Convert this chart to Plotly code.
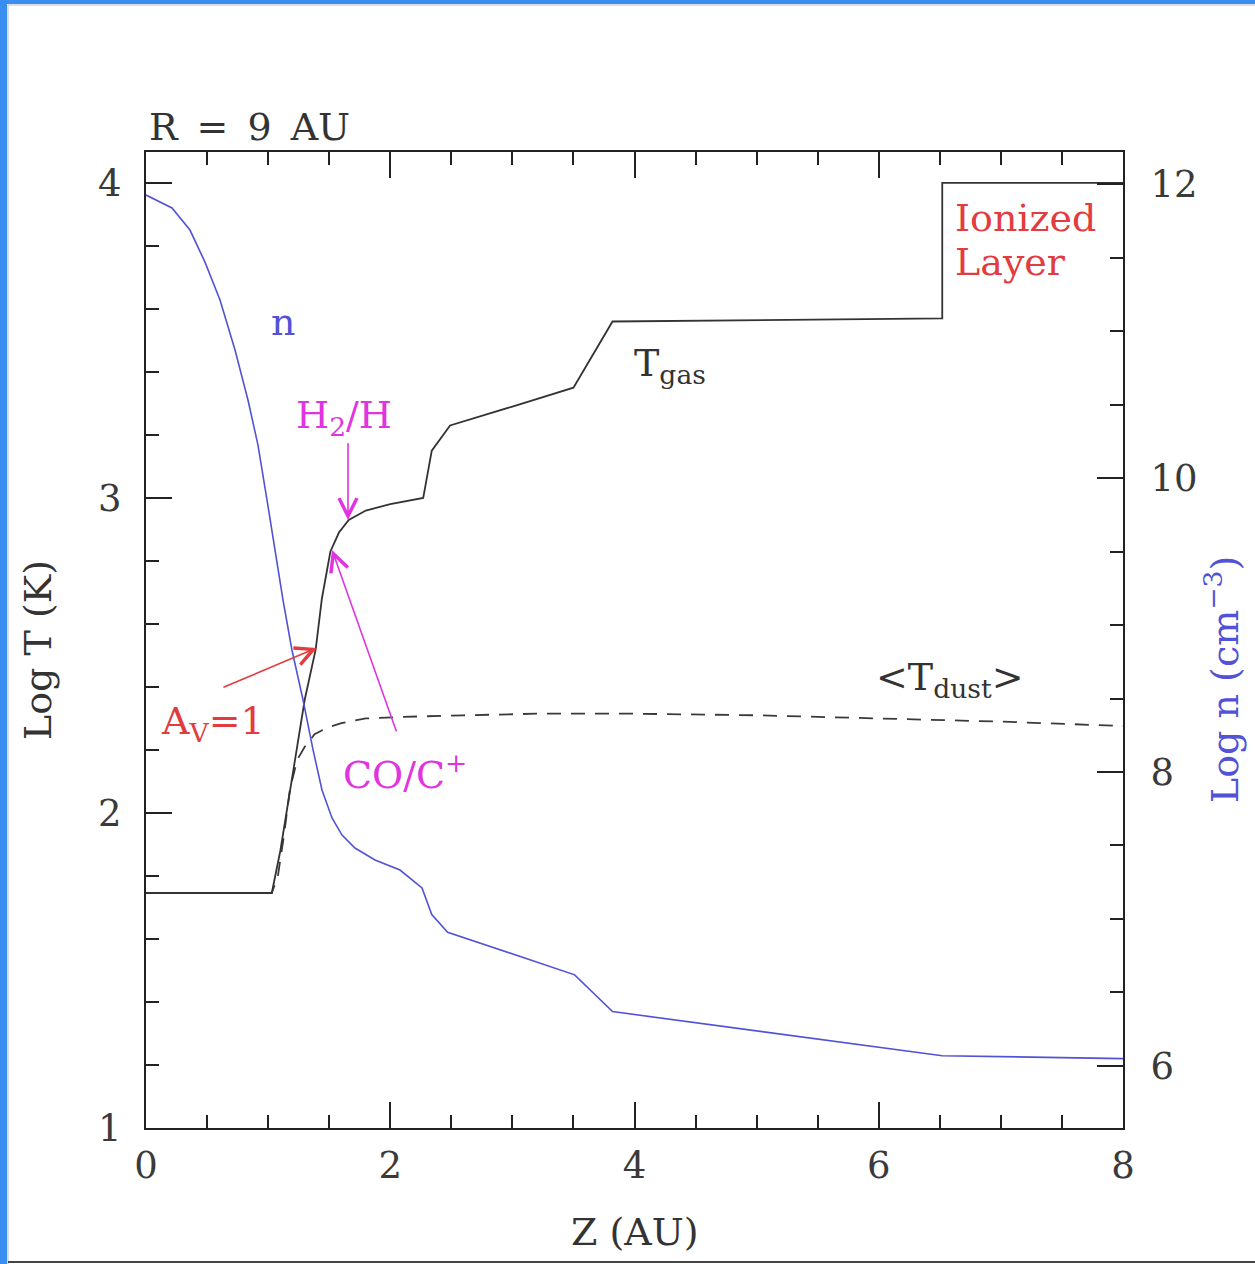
import plotly.graph_objects as go

# ---------------- data ----------------
z_gas = [0.0, 1.03, 1.10, 1.20, 1.30, 1.39, 1.44, 1.51, 1.58, 1.66, 1.80, 2.00, 2.27, 2.34, 2.49, 3.00, 3.50, 3.82, 6.52, 6.52, 8.0]
logT_gas = [1.746, 1.746, 1.88, 2.12, 2.36, 2.52, 2.68, 2.83, 2.89, 2.93, 2.96, 2.98, 3.00, 3.15, 3.23, 3.29, 3.35, 3.56, 3.57, 4.0, 4.0]

z_dust = [0.0, 1.03, 1.08, 1.13, 1.18, 1.24, 1.30, 1.38, 1.48, 1.60, 1.80, 2.10, 2.60, 3.20, 4.00, 5.00, 6.00, 7.00, 8.00]
logT_dust = [1.746, 1.746, 1.80, 1.93, 2.08, 2.17, 2.21, 2.25, 2.27, 2.285, 2.30, 2.305, 2.31, 2.315, 2.315, 2.31, 2.30, 2.29, 2.276]

z_n = [0.0, 0.213, 0.36, 0.483, 0.606, 0.729, 0.835, 0.917, 0.991, 1.056, 1.122, 1.195, 1.286, 1.368,
       1.441, 1.523, 1.605, 1.711, 1.875, 2.08, 2.26, 2.34, 2.47, 3.51, 3.82, 6.52, 8.0]
log_n = [11.925, 11.837, 11.687, 11.469, 11.211, 10.871, 10.531, 10.224, 9.85, 9.51, 9.17, 8.83, 8.49, 8.15,
         7.878, 7.687, 7.571, 7.483, 7.401, 7.333, 7.211, 7.03, 6.91, 6.62, 6.37, 6.07, 6.05]

x_range = [0, 8]
yT_range = [1, 4.098]
yn_range = [5.578, 12.218]

# ---------------- style ----------------
W, H = 1255, 1264
L, R, T, B = 146, 1123, 152, 1128
FONT = "DejaVu Serif"
BLUE = "#5252d6"
RED = "#e23c40"
MAG = "#e034e0"
INK = "#333333"
AX = "#222222"


def px(x):
    return (x - L) / (R - L)


def py(y):
    return (B - y) / (B - T)


fig = go.Figure()
fig.add_trace(go.Scatter(x=z_dust, y=logT_dust, mode="lines",
                         line=dict(color="#3a3a3a", width=1.8, dash="14px,10px"),
                         hoverinfo="skip", showlegend=False))
fig.add_trace(go.Scatter(x=z_gas, y=logT_gas, mode="lines",
                         line=dict(color=INK, width=1.8),
                         hoverinfo="skip", showlegend=False))
fig.add_trace(go.Scatter(x=z_n, y=log_n, mode="lines", yaxis="y2",
                         line=dict(color=BLUE, width=1.6),
                         hoverinfo="skip", showlegend=False))

tickfont = dict(family=FONT, size=37, color="#3a3a3a")

fig.update_layout(
    width=W, height=H,
    margin=dict(l=L, r=W - R, t=T, b=H - B),
    paper_bgcolor="white", plot_bgcolor="white",
    showlegend=False,
    xaxis=dict(range=x_range, tick0=0, dtick=2, ticks="inside", ticklen=26,
               tickwidth=1.5, tickcolor=AX, showline=True, linecolor=AX,
               linewidth=2, mirror="ticks", showgrid=False, zeroline=False,
               tickfont=tickfont, ticklabelstandoff=4,
               minor=dict(dtick=0.5, tick0=0, ticks="inside", ticklen=13,
                          tickwidth=1.5, tickcolor=AX, showgrid=False)),
    yaxis=dict(range=yT_range, tick0=1, dtick=1, ticks="inside", ticklen=26,
               tickwidth=1.5, tickcolor=AX, showline=True, linecolor=AX,
               linewidth=2, showgrid=False, zeroline=False,
               tickfont=tickfont, ticklabelstandoff=15,
               minor=dict(dtick=0.2, tick0=1, ticks="inside", ticklen=13,
                          tickwidth=1.5, tickcolor=AX, showgrid=False)),
    yaxis2=dict(range=yn_range, overlaying="y", side="right", tick0=0,
                dtick=2, ticks="inside", ticklen=26, tickwidth=1.5,
                tickcolor=AX, showline=True, linecolor=AX, linewidth=2,
                showgrid=False, zeroline=False, tickfont=tickfont,
                ticklabelstandoff=18,
                minor=dict(dtick=0.5, tick0=0, ticks="inside", ticklen=13,
                           tickwidth=1.5, tickcolor=AX, showgrid=False)),
)

ann = []


def label(text, x, y, color=INK, xanchor="center", yanchor="middle",
          ref="data", size=38, angle=0):
    d = dict(text=text, x=x, y=y, showarrow=False, xanchor=xanchor,
             yanchor=yanchor, textangle=angle,
             font=dict(family=FONT, size=size, color=color))
    if ref == "data":
        d.update(xref="x", yref="y")
    else:
        d.update(xref="paper", yref="paper")
    ann.append(d)


def arrow(x, y, ax, ay, color):
    ann.append(dict(text="", x=x, y=y, ax=ax, ay=ay, xref="x", yref="y",
                    axref="x", ayref="y", showarrow=True, arrowhead=5,
                    arrowsize=2.2, arrowwidth=1.6, arrowcolor=color,
                    standoff=0, startstandoff=0))


# outside texts
label("R\u2002=\u20029\u2002AU", px(147), py(127), xanchor="left", ref="paper")
label("Z (AU)", px(635), py(1232), ref="paper")
label("Log T (K)", px(38), py(650), ref="paper", angle=-90)
label("Log n (cm<sup>−3</sup>)", px(1222), py(680), color=BLUE, ref="paper", angle=-90)

# in-plot annotations
label("n", 1.122, 3.559, color=BLUE)
label("T<sub>gas</sub>", 3.98, 3.42, xanchor="left")
label("H<sub>2</sub>/H", 1.62, 3.254, color=MAG)
label("CO/C<sup>+</sup>", 2.12, 2.13, color=MAG)
label("A<sub>V</sub>=1", 0.549, 2.283, color=RED)
label("&lt;T<sub>dust</sub>&gt;", 6.58, 2.425)
label("Ionized", 6.608, 3.889, color=RED, xanchor="left")
label("Layer", 6.608, 3.749, color=RED, xanchor="left")

arrow(1.654, 2.930, 1.654, 3.178, MAG)
arrow(1.523, 2.835, 2.055, 2.254, MAG)
arrow(1.400, 2.524, 0.622, 2.397, RED)

fig.update_layout(annotations=ann)

# screenshot frame (blue strips and light borders)
shapes = [
    dict(type="rect", xref="paper", yref="paper", x0=px(0), x1=px(7),
         y0=py(H), y1=py(0), fillcolor="#3a8ef0", line=dict(width=0), layer="below"),
    dict(type="rect", xref="paper", yref="paper", x0=px(0), x1=px(W),
         y0=py(4), y1=py(0), fillcolor="#3a8ef0", line=dict(width=0), layer="below"),
    dict(type="line", xref="paper", yref="paper", x0=px(8), x1=px(8),
         y0=py(H), y1=py(5), line=dict(color="#bbbbbb", width=1)),
    dict(type="line", xref="paper", yref="paper", x0=px(8), x1=px(W),
         y0=py(5), y1=py(5), line=dict(color="#bbbbbb", width=1)),
    dict(type="line", xref="paper", yref="paper", x0=px(8), x1=px(W),
         y0=py(1262), y1=py(1262), line=dict(color="#444444", width=2)),
]
fig.update_layout(shapes=shapes)

fig.write_html("out.html")
